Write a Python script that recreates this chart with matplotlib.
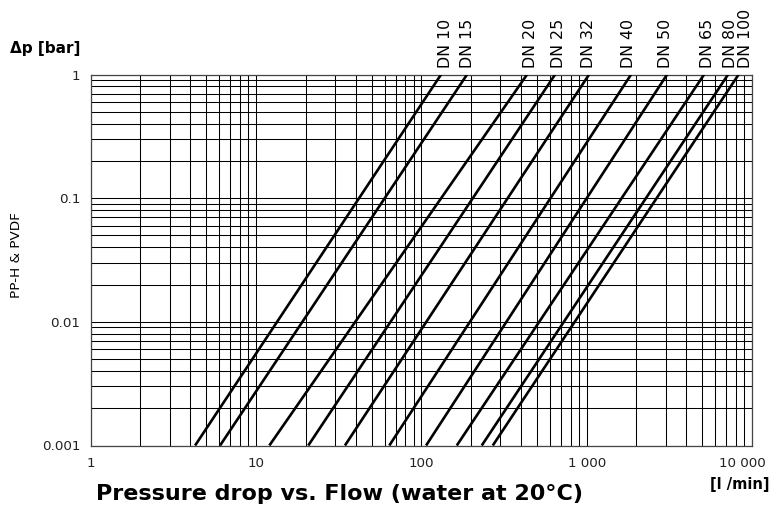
import numpy as np
import matplotlib
matplotlib.use('Agg')
import matplotlib.pyplot as plt
import matplotlib.transforms as mtransforms
from matplotlib.ticker import FixedLocator, LogLocator, NullFormatter, FixedFormatter

# ---- data ----
sizes = ['DN 10', 'DN 15', 'DN 20', 'DN 25', 'DN 32', 'DN 40', 'DN 50', 'DN 65', 'DN 80', 'DN 100']
flow_at_dp_low = [4.28, 6.06, 12.04, 20.7, 34.5, 64.0, 106.8, 163.8, 231.9, 270.4]     # l/min at 0.001 bar
flow_at_dp_high = [131.6, 189, 436, 644, 1034, 1856, 3065, 5131, 7166, 8298]          # l/min at 1 bar
dp_low = 0.001
dp_high = 1.0
x_ticks = [1, 10, 100, 1000, 10000]
x_tick_labels = ['1', '10', '100', '1 000', '10 000']
y_ticks = [0.001, 0.01, 0.1, 1]
y_tick_labels = ['0.001', '0.01', '0.1', '1']

# label nudges (pixels) for the DN labels
label_dx_px = [4, 0, 3, 3, -1, -3, -2, 3, 2, 6.5]

plt.rcParams['font.family'] = ['DejaVu Sans']

W, H = 771, 520
fig = plt.figure(figsize=(W / 100, H / 100), dpi=100)
left, right, top, bottom = 90.7, 752.0, 74.5, 445.5
ax = fig.add_axes([left / W, 1 - bottom / H, (right - left) / W, (bottom - top) / H])
ax.set_xscale('log')
ax.set_yscale('log')
ax.set_xlim(1, 10000)
ax.set_ylim(0.001, 1)

ax.xaxis.set_major_locator(FixedLocator(x_ticks))
ax.xaxis.set_major_formatter(FixedFormatter(x_tick_labels))
ax.yaxis.set_major_locator(FixedLocator(y_ticks))
ax.yaxis.set_major_formatter(FixedFormatter(y_tick_labels))
ax.xaxis.set_minor_locator(LogLocator(base=10, subs=range(2, 10), numticks=50))
ax.yaxis.set_minor_locator(LogLocator(base=10, subs=range(2, 10), numticks=50))
ax.xaxis.set_minor_formatter(NullFormatter())
ax.yaxis.set_minor_formatter(NullFormatter())
ax.tick_params(which='both', length=0, labelsize=9.7, colors='#222222')
ax.tick_params(axis='y', pad=7.7)
ax.tick_params(axis='x', pad=8.0)

ax.grid(which='both', color='black', linewidth=0.75)
ax.set_axisbelow(True)
for s in ax.spines.values():
    s.set_color('#444444')
    s.set_linewidth(0.9)

for name, qlo, qhi, dx in zip(sizes, flow_at_dp_low, flow_at_dp_high, label_dx_px):
    ax.plot([qlo, qhi], [dp_low, dp_high], color='black', linewidth=1.9,
            solid_capstyle='butt', zorder=3)
    ax.annotate(name, xy=(qhi, dp_high), xycoords='data',
                xytext=(dx * 0.72, 6.5 * 0.72), textcoords='offset points',
                rotation=90, ha='center', va='bottom', fontsize=11.4,
                annotation_clip=False)

fig.canvas.draw()
# shift the last x tick label left so it stays inside the figure
last = ax.get_xticklabels()[-1]
last.set_transform(last.get_transform() +
                   mtransforms.ScaledTranslation(-10 / 100, 0, fig.dpi_scale_trans))

fig.text(10 / W, 1 - 48.5 / H, 'Δp [bar]', ha='left', va='center',
         fontweight='bold', fontsize=11)
fig.text(17 / W, 1 - 255 / H, 'PP-H & PVDF', ha='center', va='center',
         rotation=90, fontsize=9.7)
fig.text(769 / W, 1 - 485 / H, '[l /min]', ha='right', va='center',
         fontweight='bold', fontsize=10.5)
fig.text(96 / W, 1 - 494 / H, 'Pressure drop vs. Flow (water at 20°C)', ha='left',
         va='center', fontweight='bold', fontsize=16)

fig.savefig('out.png', dpi=100)
